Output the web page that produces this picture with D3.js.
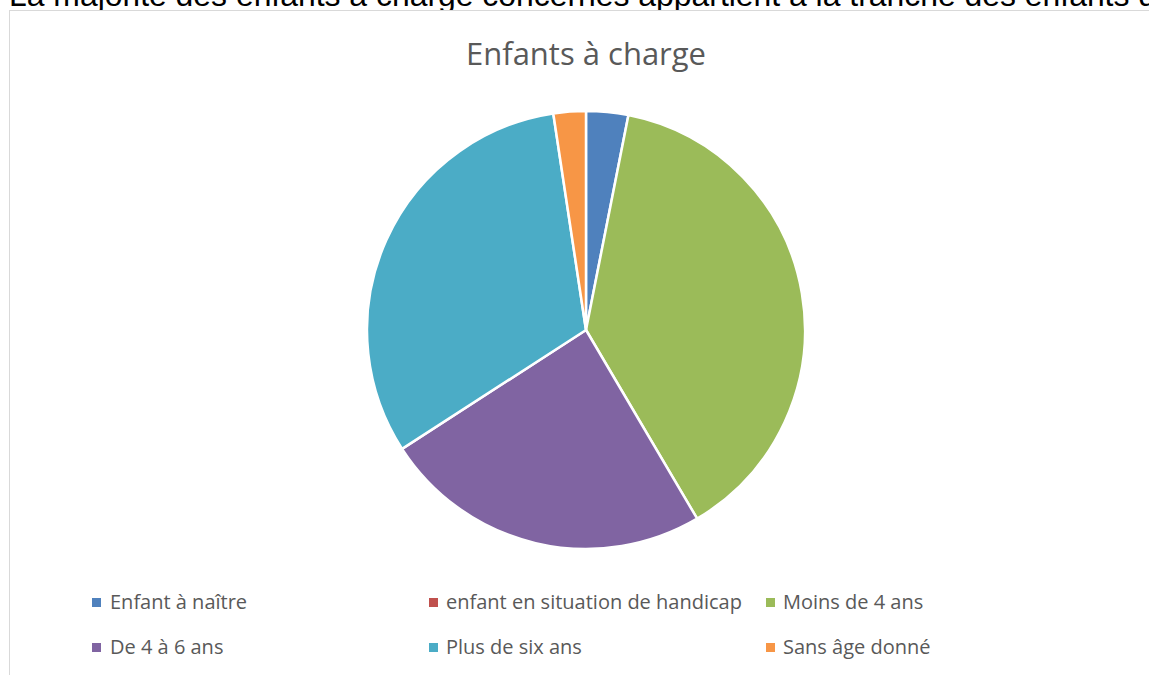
<!DOCTYPE html>
<html><head><meta charset="utf-8">
<script src="https://cdn.jsdelivr.net/npm/d3@7"></script>
<style>html,body{margin:0;padding:0;background:#fff;overflow:hidden}</style>
</head><body>
<svg id="c" width="1149" height="675"></svg>
<script>
const categories = ["Enfant à naître","enfant en situation de handicap","Moins de 4 ans","De 4 à 6 ans","Plus de six ans","Sans âge donné"];
const values = [13, 0, 161, 102, 133, 10];
const colors = ["#4F81BD","#C0504D","#9BBB59","#8064A2","#4BACC6","#F79646"];
const chartTitle = "Enfants à charge";
const headline = "La majorité des enfants à charge concernés appartient à la tranche des enfants de plus de six ans";

const svg = d3.select("#c");
svg.append("text").attr("x",9).attr("y",6).attr("font-family","Liberation Sans, Arial, sans-serif")
  .attr("font-size",31.9).attr("fill","#000").text(headline);
svg.append("rect").attr("x",9.5).attr("y",10.5).attr("width",1200).attr("height",700)
  .attr("fill","#fff").attr("stroke","#d9d9d9").attr("stroke-width",1);
svg.append("text").attr("x",586).attr("y",65).attr("text-anchor","middle")
  .attr("font-family","Open Sans, sans-serif").attr("font-size",31).attr("fill","#595959").text(chartTitle);

const data = categories.map((c,i)=>({c, v: values[i], col: colors[i]}));
const pie = d3.pie().sort(null).value(d=>d.v);
const arc = d3.arc().innerRadius(0).outerRadius(219);
const g = svg.append("g").attr("transform","translate(586,330)");
g.selectAll("path").data(pie(data).filter(d=>d.data.v>0)).join("path")
  .attr("d",arc).attr("fill",d=>d.data.col).attr("stroke","#fff").attr("stroke-width",2.5).attr("stroke-linejoin","round");

const colX = [92, 429, 766];
const rowY = [609, 654];
const leg = svg.append("g");
data.forEach((d,i)=>{
  const x = colX[i%3], y = rowY[Math.floor(i/3)];
  leg.append("rect").attr("x",x).attr("y",y-11).attr("width",9).attr("height",9).attr("fill",d.col);
  leg.append("text").attr("x",x+(i%3===0?18:17)).attr("y",y).attr("font-family","Open Sans, sans-serif")
    .attr("font-size",20).attr("fill","#595959").text(d.c);
});
</script>
</body></html>
